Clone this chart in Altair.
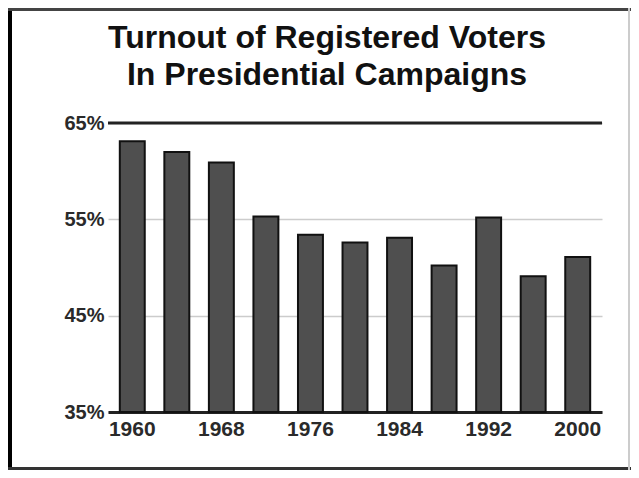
import altair as alt
import pandas as pd

years = [1960, 1964, 1968, 1972, 1976, 1980, 1984, 1988, 1992, 1996, 2000]
turnout = [63.1, 62.0, 60.9, 55.3, 53.4, 52.6, 53.1, 50.2, 55.2, 49.1, 51.1]
y_ticks = [35, 45, 55, 65]
x_labels = [1960, 1968, 1976, 1984, 1992, 2000]
title_lines = ["Turnout of Registered Voters", "In Presidential Campaigns"]

df = pd.DataFrame({"year": years, "turnout": turnout})
one = pd.DataFrame({"k": [0]})

FONT = "Liberation Sans"

bars = alt.Chart(df).mark_bar(
    color="#4f4f4f", stroke="#111111", strokeWidth=2
).encode(
    x=alt.X("year:O",
            scale=alt.Scale(paddingInner=0.44, paddingOuter=0.265),
            axis=alt.Axis(values=x_labels, labelAngle=0, title=None, ticks=False,
                          labelFontSize=21, labelFont=FONT, labelColor="#2a2a2a",
                          labelFontWeight="bold",
                          labelPadding=6, domainColor="#222", domainWidth=3,
                          grid=False)),
    y=alt.Y("turnout:Q",
            scale=alt.Scale(domain=[35, 65], zero=False, nice=False),
            axis=alt.Axis(values=y_ticks, title=None, ticks=False, domain=False,
                          labelExpr="datum.value + '%'",
                          labelFontSize=20, labelFont=FONT, labelColor="#2a2a2a",
                          labelFontWeight="bold",
                          labelPadding=4, gridColor="#cccccc", gridWidth=1.5)),
    y2=alt.datum(35),
)

top_rule = alt.Chart(one).mark_rule(color="#222", strokeWidth=3).encode(
    y=alt.datum(65)
)

frame_left = alt.Chart(one).mark_rule(color="#000", strokeWidth=4).encode(
    x=alt.value(-98), y=alt.value(-115), y2=alt.value(347)
)
frame_top = alt.Chart(one).mark_rule(color="#444", strokeWidth=3).encode(
    x=alt.value(-100), x2=alt.value(523), y=alt.value(-113.5)
)
frame_bottom = alt.Chart(one).mark_rule(color="#333", strokeWidth=3).encode(
    x=alt.value(-100), x2=alt.value(523), y=alt.value(345.5)
)
frame_right = alt.Chart(one).mark_rule(color="#cccccc", strokeWidth=2).encode(
    x=alt.value(521), y=alt.value(-115), y2=alt.value(347)
)

chart = alt.layer(
    bars, top_rule, frame_left, frame_top, frame_bottom, frame_right
).properties(
    width=494, height=289,
    autosize=alt.AutoSizeParams(type="none"),
    padding={"left": 100, "top": 115, "right": 29, "bottom": 58},
    title=alt.TitleParams(
        text=title_lines, font=FONT, fontSize=32, fontWeight="bold",
        color="#111", anchor="middle", frame="group", dx=-28,
        offset=0, dy=86, lineHeight=37
    ),
).configure_view(stroke=None)

chart.save("out.html", embed_options={"renderer": "svg", "actions": False})
